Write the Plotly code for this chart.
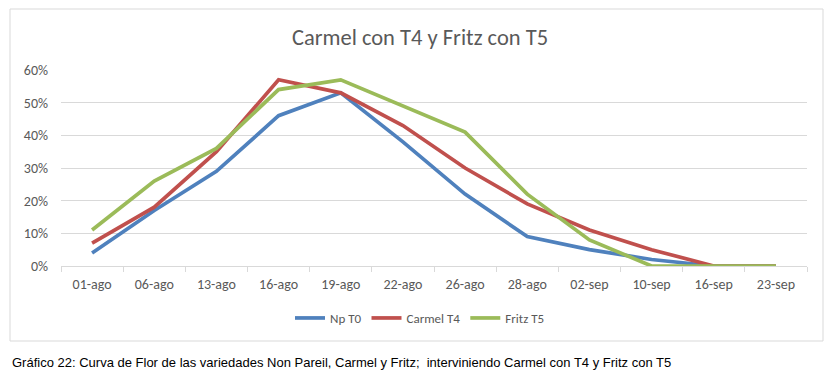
import plotly.graph_objects as go

categories = ["01-ago", "06-ago", "13-ago", "16-ago", "19-ago", "22-ago",
              "26-ago", "28-ago", "02-sep", "10-sep", "16-sep", "23-sep"]
np_t0 = [0.04, 0.17, 0.29, 0.46, 0.53, 0.38, 0.22, 0.09, 0.05, 0.02, 0.00, 0.00]
carmel_t4 = [0.07, 0.18, 0.35, 0.57, 0.53, 0.43, 0.30, 0.19, 0.11, 0.05, 0.00, 0.00]
fritz_t5 = [0.11, 0.26, 0.36, 0.54, 0.57, 0.49, 0.41, 0.22, 0.08, 0.00, 0.00, 0.00]
y_ticks = [0, 0.1, 0.2, 0.3, 0.4, 0.5, 0.6]

title = "Carmel con T4 y Fritz con T5"
caption = "Gráfico 22: Curva de Flor de las variedades Non Pareil, Carmel y Fritz;  interviniendo Carmel con T4 y Fritz con T5"

W, H = 829, 380
L, R, T, B = 61, 22, 70, 114
pw, ph = W - L - R, H - T - B

def px_x(x):
    return (x - L) / pw

def px_y(y):
    return (H - B - y) / ph

series = [("Np T0", np_t0, "#4F81BD"),
          ("Carmel T4", carmel_t4, "#C0504D"),
          ("Fritz T5", fritz_t5, "#9BBB59")]

fig = go.Figure()
for name, vals, col in series:
    fig.add_trace(go.Scatter(x=categories, y=vals, name=name, mode="lines",
                             line=dict(color=col, width=3.7)))

font_main = "Carlito, Lato, 'Open Sans', sans-serif"
fig.update_layout(
    width=W, height=H,
    margin=dict(l=L, r=R, t=T, b=B),
    paper_bgcolor="white", plot_bgcolor="white",
    font=dict(family=font_main, color="#595959", size=13),
    title=dict(text=title, x=px_x(420), xanchor="center", xref="paper",
               y=1 - 37 / H, yanchor="middle",
               font=dict(size=22.5, color="#595959", family=font_main)),
    showlegend=True,
    legend=dict(orientation="h", xanchor="center", x=px_x(420), yanchor="middle",
                y=px_y(318), font=dict(size=13, color="#595959"),
                bgcolor="rgba(0,0,0,0)", itemwidth=30, tracegroupgap=0),
    xaxis=dict(type="category", range=[-0.5, len(categories) - 0.5],
               showgrid=False, showline=True, linecolor="#D9D9D9", linewidth=1,
               ticks="outside", tickson="boundaries", ticklen=5, tickcolor="#D9D9D9",
               ticklabelstandoff=5,
               tickfont=dict(size=14, color="#595959"), fixedrange=True),
    yaxis=dict(range=[0, 0.6], tickvals=y_ticks, tickformat=".0%",
               showgrid=True, gridcolor="#D9D9D9", gridwidth=1, zeroline=False,
               showline=False, ticks="", ticklabelstandoff=12,
               tickfont=dict(size=14, color="#595959"), fixedrange=True),
)

fig.add_shape(type="rect", xref="paper", yref="paper",
              x0=px_x(10), x1=px_x(823), y0=px_y(341), y1=px_y(9),
              line=dict(color="#D9D9D9", width=1), fillcolor="rgba(0,0,0,0)", layer="below")

fig.add_annotation(text=caption, xref="paper", yref="paper",
                   x=px_x(10), y=px_y(362), xanchor="left", yanchor="middle",
                   showarrow=False,
                   font=dict(family="'Liberation Sans Narrow', 'Arial Narrow', 'Liberation Sans', Arial, sans-serif",
                             size=13, color="#000000"))

fig.write_html("out.html", config={"displayModeBar": False},
               post_script="document.body.style.margin='0';document.body.style.padding='0';")
